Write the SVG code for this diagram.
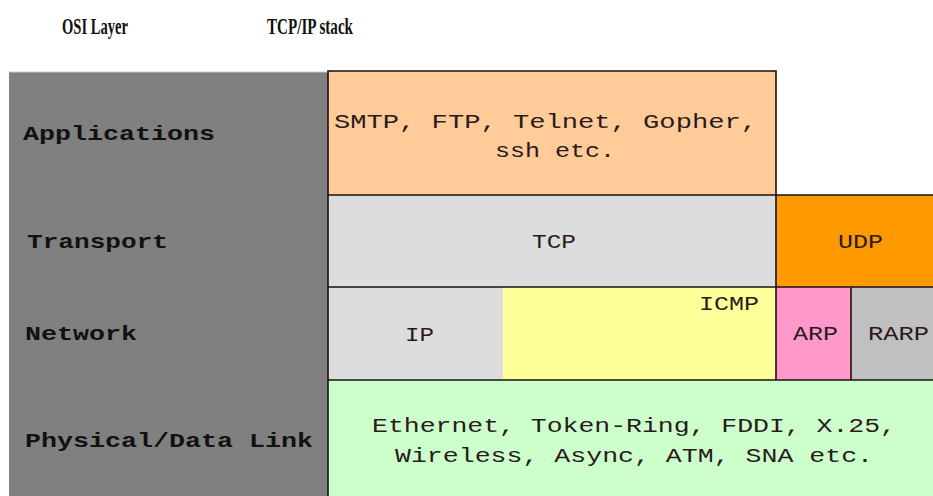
<svg xmlns="http://www.w3.org/2000/svg" width="933" height="496" viewBox="0 0 933 496">
  <style>
    .hdr { font-family: "Liberation Serif", "Times New Roman", serif; font-weight: bold; font-size: 24px; fill: #111; }
    .osi { font-family: "Liberation Mono", "Courier New", monospace; font-weight: bold; font-size: 21px; fill: #111; }
    .proto { font-family: "Liberation Mono", "Courier New", monospace; font-size: 20px; fill: #2a1a1a; }
    .edge { stroke: #1a1010; stroke-width: 1.6; fill: none; }
  </style>
  <rect width="933" height="496" fill="#ffffff"/>

  <!-- column headings -->
  <g id="headings">
    <text class="hdr" x="62" y="34" textLength="66" lengthAdjust="spacingAndGlyphs">OSI Layer</text>
    <text class="hdr" x="267" y="34" textLength="86" lengthAdjust="spacingAndGlyphs">TCP/IP stack</text>
  </g>

  <!-- OSI layer column -->
  <g id="osi-column">
    <rect x="9" y="72" width="319" height="424" fill="#808080"/>
    <line x1="9" y1="72" x2="328" y2="72" stroke="#c8c8c8" stroke-width="1"/>
    <text class="osi" x="23" y="140" textLength="192" lengthAdjust="spacingAndGlyphs">Applications</text>
    <text class="osi" x="27" y="248" textLength="141" lengthAdjust="spacingAndGlyphs">Transport</text>
    <text class="osi" x="25" y="340" textLength="112" lengthAdjust="spacingAndGlyphs">Network</text>
    <text class="osi" x="25" y="447" textLength="288" lengthAdjust="spacingAndGlyphs">Physical/Data Link</text>
  </g>

  <!-- TCP/IP protocol boxes -->
  <g id="applications">
    <rect x="328" y="71" width="448" height="124" fill="#FFCC99"/>
    <text class="proto" x="334" y="128" textLength="423" lengthAdjust="spacingAndGlyphs">SMTP, FTP, Telnet, Gopher,</text>
    <text class="proto" x="495" y="157" textLength="120" lengthAdjust="spacingAndGlyphs">ssh etc.</text>
  </g>
  <g id="tcp">
    <rect x="328" y="195" width="448" height="92" fill="#DDDDDD"/>
    <text class="proto" x="532" y="248" textLength="44" lengthAdjust="spacingAndGlyphs">TCP</text>
  </g>
  <g id="udp">
    <rect x="776" y="195" width="157" height="92" fill="#FF9900"/>
    <text class="proto" x="838" y="248" textLength="45" lengthAdjust="spacingAndGlyphs">UDP</text>
  </g>
  <g id="ip">
    <rect x="328" y="287" width="175" height="93" fill="#DDDDDD"/>
    <text class="proto" x="405" y="341" textLength="29" lengthAdjust="spacingAndGlyphs">IP</text>
  </g>
  <g id="icmp">
    <rect x="503" y="287" width="273" height="93" fill="#FFFF99"/>
    <text class="proto" x="699" y="310" textLength="60" lengthAdjust="spacingAndGlyphs">ICMP</text>
  </g>
  <g id="arp">
    <rect x="776" y="287" width="75" height="93" fill="#FF99CC"/>
    <text class="proto" x="793" y="340" textLength="45" lengthAdjust="spacingAndGlyphs">ARP</text>
  </g>
  <g id="rarp">
    <rect x="851" y="287" width="82" height="93" fill="#C0C0C0"/>
    <text class="proto" x="868" y="340" textLength="61" lengthAdjust="spacingAndGlyphs">RARP</text>
  </g>
  <g id="physical">
    <rect x="328" y="380" width="605" height="116" fill="#CCFFCC"/>
    <text class="proto" x="372" y="432" textLength="524" lengthAdjust="spacingAndGlyphs">Ethernet, Token-Ring, FDDI, X.25,</text>
    <text class="proto" x="395" y="462" textLength="478" lengthAdjust="spacingAndGlyphs">Wireless, Async, ATM, SNA etc.</text>
  </g>

  <!-- box borders -->
  <g id="connectors">
    <path class="edge" d="M328,496 V71 H776 V380"/>
    <line class="edge" x1="328" y1="195" x2="933" y2="195"/>
    <line class="edge" x1="328" y1="287" x2="933" y2="287"/>
    <line class="edge" x1="328" y1="380" x2="933" y2="380"/>
    <line class="edge" x1="851" y1="287" x2="851" y2="380"/>
  </g>
</svg>
